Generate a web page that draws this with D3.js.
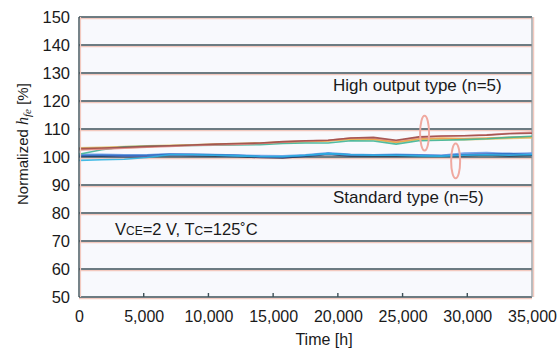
<!DOCTYPE html>
<html>
<head>
<meta charset="utf-8">
<script src="https://cdn.jsdelivr.net/npm/d3@7"></script>
<style>
  body { margin: 0; background: #fff; }
  svg text { font-family: "Liberation Sans", Arial, sans-serif; fill: #1a1a1a; }
</style>
</head>
<body>
<div id="chart"></div>
<script>
// hours at which the curves were read
var times = [0, 1750, 3500, 5250, 7000, 8750, 10500, 12250, 14000, 15750, 17500,
             19250, 21000, 22750, 24500, 26250, 28000, 29750, 31500, 33250, 35000];

// high output type (n=5), normalized hfe %
var highBrown  = [103.0,103.2,103.5,103.8,104.0,104.3,104.6,104.8,105.0,105.5,105.8,106.0,106.8,107.0,106.0,107.2,107.5,107.6,107.8,108.3,108.5];
var highOrange = [102.8,103.0,103.3,103.6,104.0,104.2,104.4,104.6,104.8,105.2,105.5,105.7,106.5,106.4,105.3,106.5,106.8,106.6,106.8,107.0,107.2];
var highTeal   = [101.0,102.6,103.6,103.8,104.0,104.1,104.2,104.3,104.4,104.8,105.0,105.0,105.8,105.7,104.6,105.8,106.0,106.2,106.5,107.0,107.4];
var highPink   = [102.5,102.8,103.1,103.5,103.8,104.1,104.3,104.5,104.8,105.3,105.7,106.0,106.8,106.8,105.8,107.0,107.4,107.6,107.9,108.5,108.8];
var highYellow = [103.3,103.5,103.7,104.0,104.2,104.4,104.6,104.8,105.0,105.4,105.6,105.8,106.2,106.2,105.2,106.2,106.4,106.2,106.4,106.6,106.8];

// standard type (n=5)
var stdBlue   = [100.5,100.6,100.5,100.6,101.0,101.0,100.8,100.6,100.2,100.0,100.5,101.2,100.8,100.6,100.8,100.6,100.4,100.8,101.0,101.2,100.8];
var stdNavy   = [100.3,100.3,100.2,100.2,100.6,100.5,100.4,100.2,99.8,99.7,100.3,100.9,100.4,100.5,100.4,100.5,100.3,100.5,100.7,100.4,100.6];
var stdCyan   = [98.8,99.0,99.2,99.8,100.8,100.8,100.6,100.4,100.2,100.2,100.6,101.2,100.8,100.6,100.6,100.4,100.3,100.6,100.8,100.6,100.9];
var stdLight  = [101.0,101.0,100.8,100.8,101.1,101.0,100.9,100.7,100.5,100.4,100.8,101.5,101.0,100.8,101.0,100.8,100.6,101.4,101.6,101.2,101.4];
var stdPurple = [100.6,100.6,100.4,100.4,100.8,100.7,100.6,100.4,100.1,100.1,100.6,101.1,100.7,100.6,100.7,100.6,100.5,101.0,101.3,100.9,101.2];

var xTicks = [0, 5000, 10000, 15000, 20000, 25000, 30000, 35000];
var yTicks = [50, 60, 70, 80, 90, 100, 110, 120, 130, 140, 150];

// ellipse markers [time, value, half-height in %]
var marks = [[26700, 108.5, 6.2], [29100, 98.6, 6.2]];

var series = [
  {v: stdNavy, c: "#23324f"}, {v: stdPurple, c: "#7a78c8"}, {v: stdLight, c: "#6d9ce6"},
  {v: stdBlue, c: "#2f6fc4"}, {v: stdCyan, c: "#2db4e3"},
  {v: highYellow, c: "#e0c46a"}, {v: highOrange, c: "#eda24a"}, {v: highTeal, c: "#3fb596"},
  {v: highPink, c: "#e38c8c"}, {v: highBrown, c: "#9e4f4a"}
];

var W = 558, H = 348;
var m = {left: 79, right: 26, top: 17, bottom: 51};

var svg = d3.select("#chart").append("svg").attr("width", W).attr("height", H);

var x = d3.scaleLinear().domain([0, 35000]).range([m.left, W - m.right]);
var y = d3.scaleLinear().domain([50, 150]).range([H - m.bottom, m.top]);

svg.append("rect").attr("x", x(0)).attr("y", y(150))
  .attr("width", x(35000) - x(0)).attr("height", y(50) - y(150))
  .style("fill", "#f8f9fd");

// grid lines with the faint pink shadow of the original print
var grid = svg.append("g");
grid.selectAll("line.sh").data(yTicks).enter().append("line")
  .attr("x1", x(0)).attr("x2", x(35000))
  .attr("y1", function(d){ return y(d) + 1.6; }).attr("y2", function(d){ return y(d) + 1.6; })
  .style("stroke", "#f3c9bf").style("stroke-width", 1.2);
grid.selectAll("line.gl").data(yTicks).enter().append("line")
  .attr("x1", x(0)).attr("x2", x(35000))
  .attr("y1", function(d){ return y(d); }).attr("y2", function(d){ return y(d); })
  .style("stroke", "#3e5158").style("stroke-width", 1.4);

// right frame
svg.append("line").attr("x1", x(35000) + 1.5).attr("x2", x(35000) + 1.5)
  .attr("y1", y(150)).attr("y2", y(50)).style("stroke", "#f3c9bf").style("stroke-width", 1.5);
svg.append("line").attr("x1", x(35000)).attr("x2", x(35000))
  .attr("y1", y(150)).attr("y2", y(50)).style("stroke", "#8d9599").style("stroke-width", 1.2);

var line = d3.line()
  .x(function(d, i){ return x(times[i]); })
  .y(function(d){ return y(d); })
  .curve(d3.curveLinear);

svg.append("g").selectAll("path").data(series).enter().append("path")
  .attr("d", function(s){ return line(s.v); })
  .style("fill", "none").style("stroke", function(s){ return s.c; })
  .style("stroke-width", 1.6).style("opacity", 0.9);

// ellipses
svg.append("g").selectAll("ellipse").data(marks).enter().append("ellipse")
  .attr("cx", function(d){ return x(d[0]); }).attr("cy", function(d){ return y(d[1]); })
  .attr("rx", 4.5).attr("ry", function(d){ return y(d[1] - d[2]) - y(d[1]); })
  .style("fill", "none").style("stroke", "#f0a9a0").style("stroke-width", 2);

// axes
var xAxis = d3.axisBottom(x).tickValues(xTicks).tickSize(0).tickPadding(14)
  .tickFormat(d3.format(","));
var gx = svg.append("g").attr("transform", "translate(0," + y(50) + ")").call(xAxis);
gx.select(".domain").remove();
gx.selectAll("text").style("font-size", "16px").style("fill", "#1a1a1a");
gx.selectAll("line.up").data(xTicks.slice(1, 7)).enter().append("line")
  .attr("x1", function(d){ return x(d); }).attr("x2", function(d){ return x(d); })
  .attr("y1", 0).attr("y2", -4).style("stroke", "#3e5158").style("stroke-width", 1.4);

var yAxis = d3.axisLeft(y).tickValues(yTicks).tickSize(0).tickPadding(9);
var gy = svg.append("g").attr("transform", "translate(" + x(0) + ",0)").call(yAxis);
gy.select(".domain").remove();
gy.selectAll("text").style("font-size", "16.5px").style("fill", "#1a1a1a");

svg.append("line").attr("x1", x(0) + 1.5).attr("x2", x(0) + 1.5)
  .attr("y1", y(150)).attr("y2", y(50)).style("stroke", "#f3c9bf").style("stroke-width", 1.2);
svg.append("line").attr("x1", x(0)).attr("x2", x(0))
  .attr("y1", y(150)).attr("y2", y(50)).style("stroke", "#3e5158").style("stroke-width", 1.4);

// titles
svg.append("text").attr("x", 324).attr("y", 345)
  .attr("text-anchor", "middle").style("font-size", "16px").text("Time [h]");

var yt = svg.append("text").attr("transform", "translate(28,205) rotate(-90)")
  .attr("text-anchor", "start").style("font-size", "15px");
yt.append("tspan").text("Normalized ");
yt.append("tspan").text("h").style("font-family", "'Liberation Serif', serif").style("font-style", "italic").style("font-size", "16px");
yt.append("tspan").text("fe").attr("dy", 3).style("font-family", "'Liberation Serif', serif").style("font-style", "italic").style("font-size", "11px");
yt.append("tspan").text(" [%]").attr("dy", -3);

svg.append("text").attr("x", 333).attr("y", 91).style("font-size", "17px").text("High output type (n=5)");
svg.append("text").attr("x", 333).attr("y", 203).style("font-size", "17px").text("Standard type (n=5)");

var cond = svg.append("text").attr("x", 115).attr("y", 235).style("font-size", "16.5px");
cond.append("tspan").text("V");
cond.append("tspan").text("CE").style("font-size", "12px");
cond.append("tspan").text("=2 V, T");
cond.append("tspan").text("C").style("font-size", "12px");
cond.append("tspan").text("=125˚C");
</script>
</body>
</html>
